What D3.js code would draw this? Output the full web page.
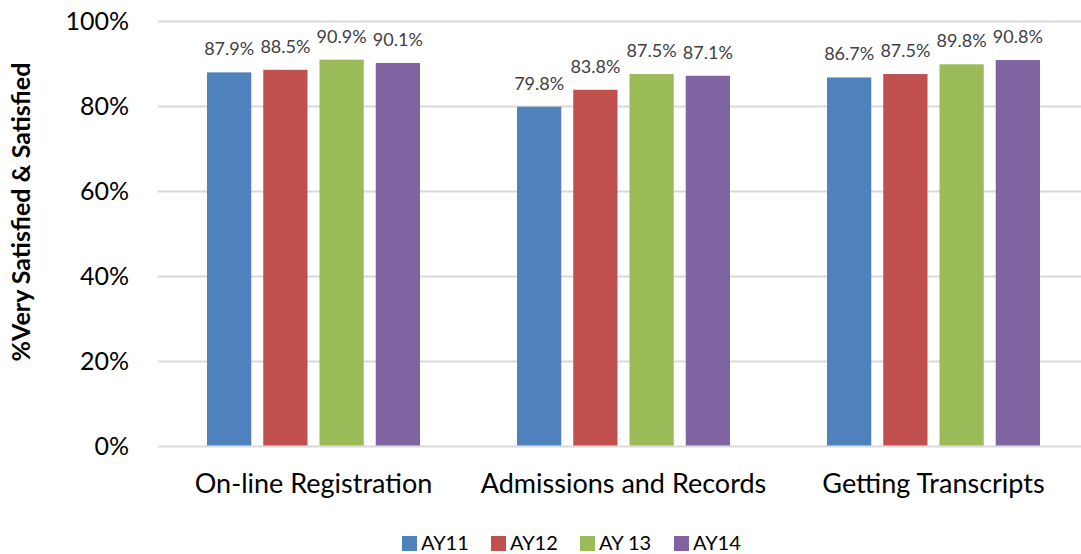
<!DOCTYPE html>
<html>
<head>
<meta charset="utf-8">
<script src="https://cdn.jsdelivr.net/npm/d3@7"></script>
<style>
  html, body { margin: 0; padding: 0; background: #fff; }
  svg { display: block; font-family: "Lato", "Open Sans", sans-serif; }
</style>
</head>
<body>
<svg id="chart" width="1081" height="554"></svg>
<script>
// Survey categories and yearly satisfaction rates (percent)
const categories = ["On-line Registration", "Admissions and Records", "Getting Transcripts"];
const seriesNames = ["AY11", "AY12", "AY 13", "AY14"];
const ay11 = [87.9, 79.8, 86.7];
const ay12 = [88.5, 83.8, 87.5];
const ay13 = [90.9, 87.5, 89.8];
const ay14 = [90.1, 87.1, 90.8];
const yTicks = [0, 20, 40, 60, 80, 100];
const colors = ["#4F81BD", "#C0504D", "#9BBB59", "#8064A2"];

const seriesValues = [ay11, ay12, ay13, ay14];
const rows = categories.map((c, i) => ({
  category: c,
  values: seriesNames.map((s, j) => ({ series: s, value: seriesValues[j][i], color: colors[j] }))
}));

const svg = d3.select("#chart");

const x0 = d3.scaleBand().domain(categories).range([158.5, 1088.5]).padding(0);
const x1 = d3.scaleBand().domain(seriesNames)
  .range([42.5, x0.bandwidth() - 42.5])
  .paddingInner(0.2133).paddingOuter(0.1067);
const y = d3.scaleLinear().domain([0, 100]).range([445.5, 21]);

// Horizontal gridlines
svg.append("g")
  .selectAll("line")
  .data(yTicks)
  .join("line")
  .attr("x1", 158).attr("x2", 1081)
  .attr("y1", d => Math.round(y(d)) + 0.5)
  .attr("y2", d => Math.round(y(d)) + 0.5)
  .attr("stroke", "#D9D9D9")
  .attr("stroke-width", 2);

// Y axis tick labels
const yAxis = d3.axisLeft(y).tickValues(yTicks).tickFormat(d => d + "%").tickSize(0).tickPadding(0);
const yg = svg.append("g").attr("transform", "translate(129,0)").call(yAxis);
yg.select(".domain").remove();
yg.selectAll("text")
  .attr("font-family", "Lato, sans-serif")
  .attr("font-size", 25)
  .attr("fill", "#000")
  .attr("dy", "0.35em");

// Y axis title
svg.append("text")
  .attr("transform", "translate(30,212) rotate(-90)")
  .attr("text-anchor", "middle")
  .attr("font-size", 25)
  .attr("font-weight", "bold")
  .attr("fill", "#000")
  .text("%Very Satisfied & Satisfied");

// Bars grouped by category
const groups = svg.append("g")
  .selectAll("g")
  .data(rows)
  .join("g")
  .attr("transform", d => `translate(${x0(d.category)},0)`);

groups.selectAll("rect")
  .data(d => d.values)
  .join("rect")
  .attr("x", d => x1(d.series))
  .attr("width", x1.bandwidth())
  .attr("y", d => y(d.value))
  .attr("height", d => y(0) - y(d.value))
  .attr("fill", d => d.color);

// Value labels above bars
groups.selectAll("text.val")
  .data(d => d.values)
  .join("text")
  .attr("class", "val")
  .attr("x", d => x1(d.series) + x1.bandwidth() / 2)
  .attr("y", d => y(d.value) - 17)
  .attr("text-anchor", "middle")
  .attr("font-size", 18)
  .attr("fill", "#404040")
  .text(d => d.value.toFixed(1) + "%");

// Category labels
const xAxis = d3.axisBottom(x0).tickSize(0).tickPadding(0);
const xg = svg.append("g").attr("transform", "translate(0,493)").call(xAxis);
xg.select(".domain").remove();
xg.selectAll("text")
  .attr("font-family", "Lato, sans-serif")
  .attr("font-size", 27)
  .attr("fill", "#000")
  .attr("dy", 0);

// Legend
const legendX = [402, 491, 580, 674];
const legend = svg.append("g")
  .selectAll("g")
  .data(seriesNames)
  .join("g")
  .attr("transform", (d, i) => `translate(${legendX[i]},536)`);
legend.append("rect")
  .attr("width", 15).attr("height", 15)
  .attr("fill", (d, i) => colors[i]);
legend.append("text")
  .attr("x", 19).attr("y", 14)
  .attr("font-size", 20)
  .attr("fill", "#000")
  .text(d => d);
</script>
</body>
</html>
